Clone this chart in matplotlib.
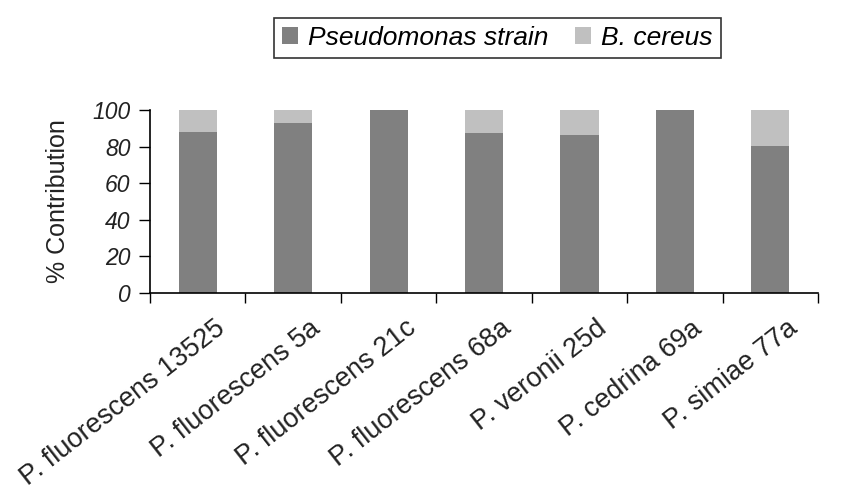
import numpy as np
import matplotlib
matplotlib.use('Agg')
import matplotlib.pyplot as plt
import matplotlib.transforms as mtransforms

# Data
strains = ['P. fluorescens 13525', 'P. fluorescens 5a', 'P. fluorescens 21c',
           'P. fluorescens 68a', 'P. veronii 25d', 'P. cedrina 69a', 'P. simiae 77a']
pseudomonas = [88.1, 93.1, 100.0, 87.2, 86.3, 100.0, 80.3]
b_cereus = [11.9, 6.9, 0.0, 12.8, 13.7, 0.0, 19.7]

plt.rcParams['font.family'] = ['Liberation Sans', 'DejaVu Sans']

fig = plt.figure(figsize=(8.51, 4.97), dpi=100)
ax = fig.add_axes([0.1763, 0.4105, 0.785, 0.368])

x = np.arange(len(strains))
ax.bar(x, pseudomonas, width=0.4, color='#808080', label='Pseudomonas strain')
ax.bar(x, b_cereus, width=0.4, bottom=pseudomonas, color='#c0c0c0', label='B. cereus')

ax.set_xlim(-0.5, len(strains) - 0.5)
ax.set_ylim(0, 100)
ax.set_yticks([0, 20, 40, 60, 80, 100])
ax.set_yticklabels(['0', '20', '40', '60', '80', '100'], fontstyle='italic', fontsize=16.5, color='#222222')
ax.tick_params(axis='y', direction='out', length=8, width=1, pad=6)

# category labels centered, tick marks between categories
ax.set_xticks(x)
ax.set_xticklabels(strains, rotation=38, ha='right', rotation_mode='anchor', fontsize=19.5, color='#222222')
ax.set_xticks(np.arange(-0.5, len(strains), 1), minor=True)
ax.tick_params(axis='x', which='major', length=0, pad=16)
ax.tick_params(axis='x', which='minor', direction='out', length=7, width=1)
offset = mtransforms.ScaledTranslation(16 / 100, 0, fig.dpi_scale_trans)
for lbl in ax.get_xticklabels():
    lbl.set_transform(lbl.get_transform() + offset)

for side in ['top', 'right']:
    ax.spines[side].set_visible(False)
for side in ['left', 'bottom']:
    ax.spines[side].set_linewidth(1.2)

ax.set_ylabel('% Contribution', fontsize=18, color='#222222', labelpad=16)

leg = ax.legend(loc='center', bbox_to_anchor=(0.52, 1.396), ncol=2, frameon=True,
                fancybox=False, edgecolor='black', handlelength=0.6, handleheight=0.6,
                handletextpad=0.4, columnspacing=1.0, borderpad=0.3,
                prop={'style': 'italic', 'size': 19})
leg.get_frame().set_linewidth(1.2)

fig.savefig('out.png', dpi=100)
